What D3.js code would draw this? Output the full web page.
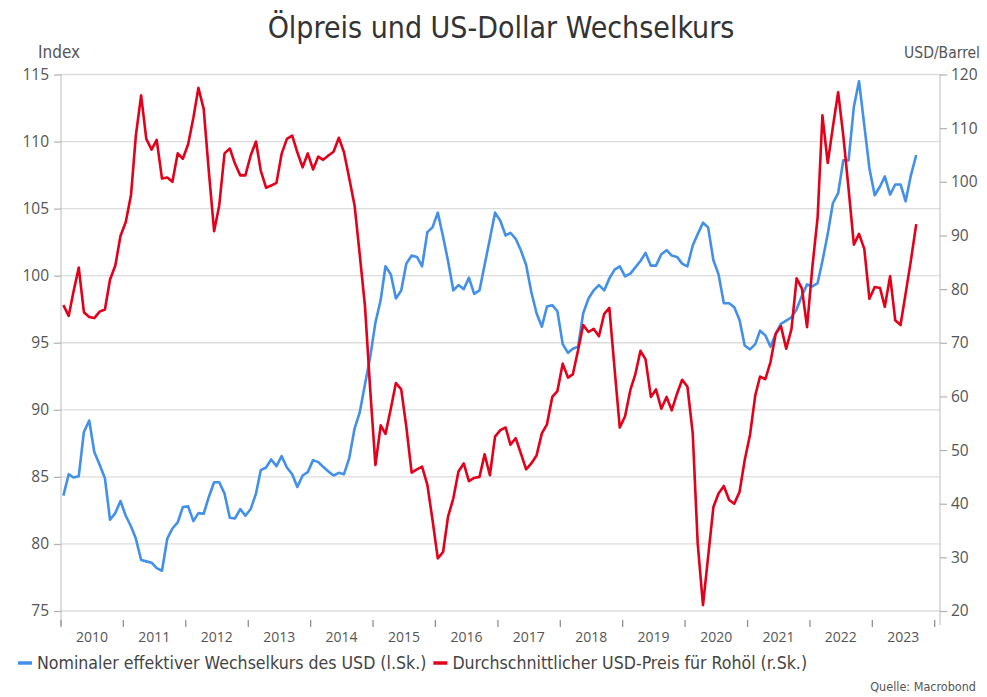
<!DOCTYPE html>
<html>
<head>
<meta charset="utf-8">
<script src="https://cdn.jsdelivr.net/npm/d3@7"></script>
<style>
  body { margin: 0; background: #fff; }
  svg { display: block; }
</style>
</head>
<body>
<div id="chart"></div>
<script>
// monthly values, Jan 2010 .. Sep 2023
const firstYear = 2010;

// Nominaler effektiver Wechselkurs des USD (Index, left scale)
const usdIndex = [
  83.6, 85.2, 84.95, 85.05, 88.35, 89.2, 86.85, 85.9, 84.9, 81.8, 82.3, 83.2,
  82.1, 81.3, 80.4, 78.8, 78.7, 78.6, 78.2, 78.0, 80.4, 81.15, 81.6, 82.75,
  82.8, 81.7, 82.3, 82.25, 83.5, 84.6, 84.6, 83.75, 81.95, 81.9, 82.6, 82.1,
  82.6, 83.75, 85.5, 85.7, 86.3, 85.8, 86.55, 85.7, 85.2, 84.25, 85.1, 85.35,
  86.25, 86.1, 85.75, 85.4, 85.1, 85.3, 85.2, 86.4, 88.6, 89.8, 91.9, 93.9,
  96.5, 98.2, 100.7, 100.1, 98.3, 98.9, 100.9, 101.5, 101.4, 100.7, 103.25, 103.6,
  104.7, 102.9, 101.1, 98.9, 99.3, 99.0, 99.85, 98.65, 98.9, 100.8, 102.75, 104.7,
  104.1, 103.0, 103.2, 102.75, 101.9, 100.8, 98.8, 97.2, 96.2, 97.7, 97.8, 97.35,
  94.9, 94.25, 94.55, 94.7, 97.2, 98.3, 98.9, 99.3, 98.9, 99.8, 100.45, 100.7,
  99.95, 100.15, 100.6, 101.1, 101.7, 100.75, 100.75, 101.6, 101.9, 101.5, 101.4, 100.9,
  100.7, 102.25, 103.1, 103.95, 103.6, 101.15, 100.1, 97.95, 97.95, 97.65, 96.7, 94.8,
  94.5, 94.9, 95.9, 95.55, 94.7, 95.7, 96.4, 96.65, 96.9, 97.5, 98.5, 99.35,
  99.2, 99.45, 101.1, 103.1, 105.4, 106.15, 108.6, 108.6, 112.6, 114.5, 111.2, 108.0,
  106.0, 106.65, 107.4, 106.05, 106.8, 106.8, 105.55, 107.5, 109.0
];

// Durchschnittlicher USD-Preis für Rohöl (USD/Barrel, right scale)
const oilPrice = [
  77, 75, 79.5, 84, 75.7, 74.8, 74.6, 75.8, 76.2, 81.8, 84.4, 89.9,
  92.5, 97.6, 108.6, 116.1, 108, 106, 107.8, 100.6, 100.8, 100, 105.3, 104.3,
  107, 112, 117.5, 113.6, 102, 90.8, 95.6, 105.3, 106.2, 103.4, 101.2, 101.2,
  104.9, 107.5, 102.1, 98.9, 99.3, 99.8, 105.2, 108, 108.6, 105.5, 102.7, 105.3,
  102.3, 104.7, 104.1, 104.9, 105.6, 108.2, 105.5, 100.6, 95.6, 86.5, 76.8, 61.5,
  47.2, 54.6, 53, 57.7, 62.5, 61.3, 54.3, 45.8, 46.4, 46.9, 43.5, 37,
  29.8, 31, 37.6, 41, 46, 47.5, 44.2, 44.8, 45, 49.2, 45.3, 52.5,
  53.7, 54.2, 51, 52.2, 49.4, 46.4, 47.5, 49, 53.1, 54.8, 59.9, 61,
  66.1, 63.5, 64.1, 68.6, 73.3, 72, 72.6, 71.2, 75.4, 76.5, 65, 54.2,
  56.3, 61.2, 64, 68.5, 66.9, 59.9, 61.3, 57.7, 59.9, 57.4, 60.5, 63.1,
  61.8, 53.1, 32.6, 21.1, 30.1, 39.4, 41.9, 43.3, 40.7, 40, 42.2, 48.1,
  52.8, 60.2, 63.7, 63.2, 66.4, 71.7, 73.1, 68.9, 72.6, 82, 80.1, 72.9,
  84.1, 93.4, 112.4, 103.5, 110.2, 116.7, 108.6, 98.7, 88.3, 90.3, 87.5, 78.2,
  80.4, 80.2, 76.7, 82.4, 74.2, 73.3, 79.2, 85.4, 92.1
];

const leftTicks = [75, 80, 85, 90, 95, 100, 105, 110, 115];
const rightTicks = [20, 30, 40, 50, 60, 70, 80, 90, 100, 110, 120];
const yearLabels = ["2010", "2011", "2012", "2013", "2014", "2015", "2016",
                    "2017", "2018", "2019", "2020", "2021", "2022", "2023"];

const titleText = "Ölpreis und US-Dollar Wechselkurs";
const legendLabels = ["Nominaler effektiver Wechselkurs des USD (l.Sk.)",
                      "Durchschnittlicher USD-Preis für Rohöl (r.Sk.)"];
const sourceText = "Quelle: Macrobond";

const width = 987;
const height = 697;
const blue = "#4390e8";
const red = "#e2001a";
const textColor = "#555";
const labelFont = "'Liberation Sans Narrow', 'DejaVu Sans Condensed', sans-serif";

const months = d3.range(usdIndex.length).map(i => new Date(firstYear, i, 15));

const svg = d3.select("#chart").append("svg")
    .attr("width", width)
    .attr("height", height);

const x = d3.scaleTime()
    .domain([new Date(2010, 0, 1), new Date(2024, 0, 1)])
    .range([61, 934.7]);
const plotRight = 940;
const yLeft = d3.scaleLinear().domain([75, 115]).range([611, 74.5]);
const yRight = d3.scaleLinear().domain([20, 120]).range([611, 74.5]);

// title
svg.append("text")
    .attr("x", 501)
    .attr("y", 38)
    .attr("text-anchor", "middle")
    .style("font-family", labelFont)
    .style("font-size", "30px")
    .style("fill", "#333")
    .text(titleText);

// axis titles
svg.append("text")
    .attr("x", 38).attr("y", 58)
    .style("font-family", labelFont)
    .style("font-size", "17px")
    .style("fill", textColor)
    .text("Index");
svg.append("text")
    .attr("x", 980).attr("y", 58)
    .attr("text-anchor", "end")
    .style("font-family", labelFont)
    .style("font-size", "15.5px")
    .style("fill", textColor)
    .text("USD/Barrel");

// gridlines
svg.append("g")
    .selectAll("line")
    .data(leftTicks)
    .join("line")
    .attr("x1", x.range()[0])
    .attr("x2", plotRight)
    .attr("y1", d => yLeft(d))
    .attr("y2", d => yLeft(d))
    .style("stroke", "#dcdcdc")
    .style("stroke-width", 1.3);

// vertical axis lines
[x.range()[0], plotRight].forEach(px => {
    svg.append("line")
        .attr("x1", px).attr("x2", px)
        .attr("y1", 74).attr("y2", 625)
        .style("stroke", "#c8c8c8")
        .style("stroke-width", 1.2);
});

// left axis
const leftAxis = svg.append("g")
    .attr("transform", `translate(${x.range()[0]},0)`)
    .call(d3.axisLeft(yLeft).tickValues(leftTicks).tickSize(7).tickPadding(5));
leftAxis.select(".domain").remove();

// right axis
const rightAxis = svg.append("g")
    .attr("transform", `translate(${plotRight},0)`)
    .call(d3.axisRight(yRight).tickValues(rightTicks).tickSize(7).tickPadding(4));
rightAxis.select(".domain").remove();

[leftAxis, rightAxis].forEach(g => {
    g.selectAll("line").style("stroke", "#b0b0b0").style("stroke-width", 1.2);
    g.selectAll("text")
        .style("font-family", "'Open Sans', sans-serif")
        .style("font-size", "15.5px")
        .style("fill", textColor);
});

// bottom axis: tick marks at year boundaries, labels mid-year
const yearBounds = d3.range(yearLabels.length + 1).map(i => new Date(2010 + i, 0, 1));
svg.append("g")
    .selectAll("line")
    .data(yearBounds)
    .join("line")
    .attr("x1", d => x(d))
    .attr("x2", d => x(d))
    .attr("y1", 620)
    .attr("y2", 627)
    .style("stroke", "#909090")
    .style("stroke-width", 1.3);

svg.append("g")
    .selectAll("text")
    .data(yearLabels)
    .join("text")
    .attr("x", d => x(new Date(+d, 6, 1)))
    .attr("y", 642)
    .attr("text-anchor", "middle")
    .style("font-family", "'Open Sans', sans-serif")
    .style("font-size", "14px")
    .style("fill", textColor)
    .text(d => d);

// lines
const usdLine = d3.line()
    .x((d, i) => x(months[i]))
    .y(d => yLeft(d));
const oilLine = d3.line()
    .x((d, i) => x(months[i]))
    .y(d => yRight(d));

svg.append("path")
    .datum(usdIndex)
    .attr("d", usdLine)
    .style("fill", "none")
    .style("stroke", blue)
    .style("stroke-width", 2.6)
    .style("stroke-linejoin", "round");

svg.append("path")
    .datum(oilPrice)
    .attr("d", oilLine)
    .style("fill", "none")
    .style("stroke", red)
    .style("stroke-width", 2.6)
    .style("stroke-linejoin", "round");

// legend
const legend = svg.append("g").attr("transform", "translate(18,663)");
let lx = 0;
[blue, red].forEach((c, i) => {
    legend.append("line")
        .attr("x1", lx).attr("x2", lx + 14)
        .attr("y1", 0).attr("y2", 0)
        .style("stroke", c)
        .style("stroke-width", 3.5);
    const t = legend.append("text")
        .attr("x", lx + 19)
        .attr("y", 6)
        .style("font-family", labelFont)
        .style("font-size", "17.6px")
        .style("fill", "#444")
        .text(legendLabels[i]);
    lx += 19 + t.node().getComputedTextLength() + 7;
});

// source
svg.append("text")
    .attr("x", 976).attr("y", 691)
    .attr("text-anchor", "end")
    .style("font-family", labelFont)
    .style("font-size", "12.5px")
    .style("fill", "#555")
    .text(sourceText);
</script>
</body>
</html>
